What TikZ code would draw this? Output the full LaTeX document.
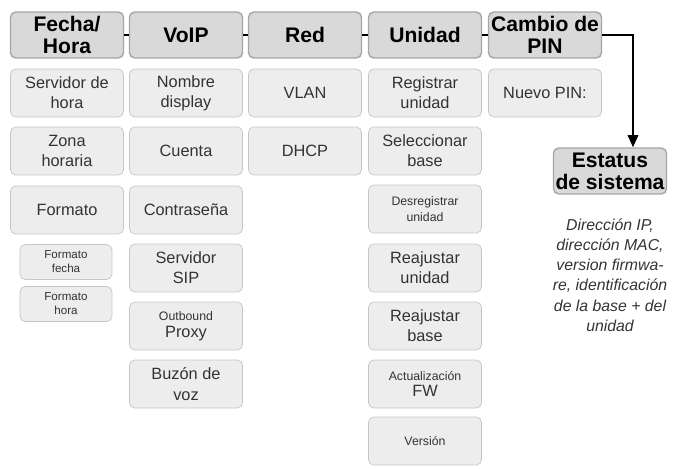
\documentclass[tikz,border=0pt]{standalone}
\usepackage{fontspec}
\setmainfont{Liberation Sans}
\usetikzlibrary{arrows.meta}
\tikzset{
  hdr/.style={draw=gray!70, fill=gray!30, rounded corners=3pt, thick, align=center,
    minimum width=2.26cm, minimum height=0.92cm, inner sep=1pt, font=\bfseries\fontsize{12}{12.5}\selectfont},
  sub/.style={draw=gray!45, fill=gray!14, rounded corners=3pt, align=center,
    minimum width=2.26cm, minimum height=0.96cm, inner sep=1pt, font=\fontsize{9.3}{11.5}\selectfont, text=black!80},
  small/.style={sub, minimum width=1.84cm, minimum height=0.7cm, font=\fontsize{6.6}{8}\selectfont},
  tiny/.style={sub, font=\fontsize{7}{9.5}\selectfont},
}
\begin{document}
\begin{tikzpicture}[x=0.02cm,y=-0.02cm]
	\useasboundingbox (0,0) rectangle (673,468);
	
	%cabeceras
	\node[hdr] (fecha) at (67,35) {Fecha/\\Hora};
	\node[hdr] (voip) at (186,35) {VoIP};
	\node[hdr] (red) at (305,35) {Red};
	\node[hdr] (unidad) at (425,35) {Unidad};
	\node[hdr] (pin) at (545,35) {Cambio de\\PIN};
	\node[hdr] (estatus) at (610,171) {Estatus\\de sistema};
	
	\foreach \a/\b in {fecha/voip, voip/red, red/unidad, unidad/pin}
		\draw[thick] (\a) -- (\b);
	\draw[very thick, -{Triangle[length=7pt,width=6pt]}] (pin.east) -| (estatus.north -| 633,0);
	
	%fecha/hora
	\node[sub] (servhora) at (67,93) {Servidor de\\hora};
	\node[sub] (zona) at (67,151) {Zona\\horaria};
	\node[sub] (formato) at (67,210) {Formato};
	\node[small] (ffecha) at (66,262) {Formato\\fecha};
	\node[small] (fhora) at (66,304) {Formato\\hora};
	
	%voip
	\node[sub] (nombre) at (186,93) {Nombre\\display};
	\node[sub] (cuenta) at (186,151) {Cuenta};
	\node[sub] (contra) at (186,210) {Contraseña};
	\node[sub] (sip) at (186,268) {Servidor\\SIP};
	\node[tiny] (proxy) at (186,326) {Outbound\\\fontsize{9.3}{11.5}\selectfont Proxy};
	\node[sub] (buzon) at (186,384) {Buzón de\\voz};
	
	%red
	\node[sub] (vlan) at (305,93) {VLAN};
	\node[sub] (dhcp) at (305,151) {DHCP};
	
	%unidad
	\node[sub] (registrar) at (425,93) {Registrar\\unidad};
	\node[sub] (selec) at (425,151) {Seleccionar\\base};
	\node[tiny] (desreg) at (425,209) {Desregistrar\\unidad};
	\node[sub] (reajunid) at (425,268) {Reajustar\\unidad};
	\node[sub] (reajbase) at (425,326) {Reajustar\\base};
	\node[tiny] (actual) at (425,384) {Actualización\\\fontsize{9.3}{11.5}\selectfont FW};
	\node[tiny] (version) at (425,441) {Versión};
	
	%pin
	\node[sub] (nuevo) at (545,93) {Nuevo PIN:};
	
	%texto
	\node[align=center, font=\itshape\fontsize{9}{11.5}\selectfont, text=black!80] (info) at (610,275)
		{Dirección IP,\\dirección MAC,\\version firmwa-\\re, identificación\\de la base + del\\unidad};
\end{tikzpicture}
\end{document}
